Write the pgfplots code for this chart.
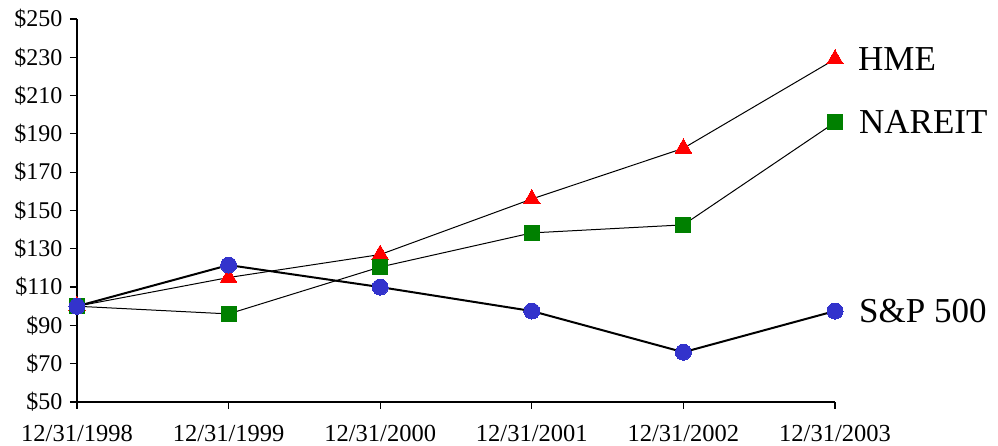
\documentclass[border=0pt]{standalone}
\usepackage{pgfplots}
\pgfplotsset{compat=1.18}
\usepackage{fontspec}
\setmainfont{Liberation Serif}
\definecolor{hmered}{RGB}{255,0,0}
\definecolor{nargreen}{RGB}{0,128,0}
\definecolor{spblue}{RGB}{51,51,204}
\begin{document}
\begin{tikzpicture}
\begin{axis}[
  scale only axis, width=758pt, height=383pt,
  xmin=0, xmax=5, ymin=50, ymax=250,
  axis lines=left, axis line style={-, line width=1.2pt},
  xtick={0,1,2,3,4,5},
  xticklabels={12/31/1998,12/31/1999,12/31/2000,12/31/2001,12/31/2002,12/31/2003},
  ytick={50,70,...,250},
  yticklabel={\$\pgfmathprintnumber{\tick}},
  /pgf/number format/assume math mode=true,
  tick style={black, line width=1.2pt},
  tick align=outside, major tick length=7pt,
  yticklabel style={font=\fontsize{24}{26}\selectfont, xshift=-4pt},
  xticklabel style={font=\fontsize{24.5}{27}\selectfont, yshift=-13pt},
  clip=false,
]
\addplot[black, line width=1pt, mark=triangle*, mark size=9.5pt, mark options={solid, fill=hmered, draw=hmered, line width=0pt}]
  coordinates {(0,100) (1,115) (2,127) (3,156) (4,182.5) (5,229)};
\addplot[black, line width=1pt, mark=square*, mark size=7.5pt, mark options={solid, fill=nargreen, draw=nargreen, line width=0pt}]
  coordinates {(0,100) (1,96) (2,120.5) (3,138.3) (4,142.5) (5,196)};
\addplot[black, line width=2pt, mark=*, mark size=8pt, mark options={solid, fill=spblue, draw=spblue, line width=0pt}]
  coordinates {(0,100) (1,121.5) (2,110) (3,97.5) (4,76) (5,97.5)};
\node[anchor=west, inner sep=0pt, font=\fontsize{35}{38}\selectfont] at (axis cs:5,229) [xshift=23pt] {HME};
\node[anchor=west, inner sep=0pt, font=\fontsize{35}{38}\selectfont] at (axis cs:5,196) [xshift=24pt] {NAREIT};
\node[anchor=west, inner sep=0pt, font=\fontsize{35}{38}\selectfont] at (axis cs:5,97.5) [xshift=24pt] {S\&P 500};
\coordinate (bl) at (rel axis cs:0,0);
\coordinate (tr) at (rel axis cs:1,1);
\end{axis}
\pgfresetboundingbox
\path ([shift={(-77pt,-44pt)}]bl) rectangle ([shift={(163pt,19pt)}]tr);
\end{tikzpicture}
\end{document}
